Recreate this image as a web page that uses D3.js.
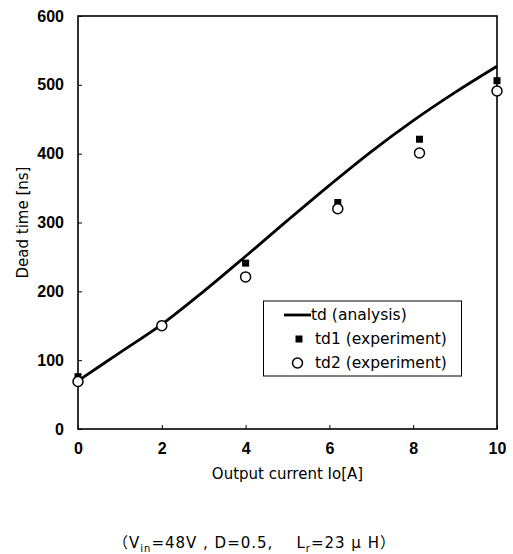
<!DOCTYPE html>
<html>
<head>
<meta charset="utf-8">
<script src="https://cdn.jsdelivr.net/npm/d3@7"></script>
<style>
  body { margin: 0; background: #fff; }
  svg { display: block; font-family: "DejaVu Sans", "Noto Sans CJK JP", sans-serif; }
</style>
</head>
<body>
<div id="chart"></div>
<script>
// Analysis curve td
const analysisX = [0, 1, 2, 3, 4, 5, 6, 7, 8, 9, 10];
const analysisY = [70, 111, 152, 200, 251, 303, 354, 403, 448, 489, 527];

// Experiment points
const td1X = [0, 2, 4, 6.2, 8.15, 10];
const td1Y = [76, 152, 241, 329, 421, 506];
const td2X = [0, 2, 4, 6.2, 8.15, 10];
const td2Y = [69, 150, 221, 320, 401, 491];

const xTicks = [0, 2, 4, 6, 8, 10];
const yTicks = [0, 100, 200, 300, 400, 500, 600];

const legendLabels = ["td (analysis)", "td1 (experiment)", "td2 (experiment)"];

const width = 513, height = 554;
const margin = { left: 78, top: 16, right: 16, bottom: 125 };

const svg = d3.select("#chart").append("svg")
    .attr("width", width)
    .attr("height", height);

const x = d3.scaleLinear().domain([0, 10]).range([margin.left, 497]);
const y = d3.scaleLinear().domain([0, 600]).range([429, margin.top]);

const tickFont = "'Liberation Sans', Arial, sans-serif";

// Axes with inward ticks
svg.append("g")
    .attr("transform", `translate(0,${y(0)})`)
    .call(d3.axisBottom(x).tickValues(xTicks).tickSizeInner(-4).tickSizeOuter(0).tickPadding(14))
    .call(g => g.select(".domain").remove())
    .call(g => g.selectAll("line").attr("stroke", "#000"))
    .call(g => g.selectAll("text")
        .attr("font-size", 16).attr("font-weight", "bold").attr("fill", "#000")
        .attr("font-family", tickFont));

svg.append("g")
    .attr("transform", `translate(${x(0)},0)`)
    .call(d3.axisLeft(y).tickValues(yTicks).tickSizeInner(-4).tickSizeOuter(0).tickPadding(14))
    .call(g => g.select(".domain").remove())
    .call(g => g.selectAll("line").attr("stroke", "#000"))
    .call(g => g.selectAll("text")
        .attr("font-size", 16).attr("font-weight", "bold").attr("fill", "#000")
        .attr("font-family", tickFont));

// Frame
svg.append("rect")
    .attr("x", x(0)).attr("y", y(600))
    .attr("width", x(10) - x(0)).attr("height", y(0) - y(600))
    .attr("fill", "none").attr("stroke", "#000").attr("stroke-width", 1.6);

// Axis titles
svg.append("text")
    .attr("x", (x(0) + x(10)) / 2).attr("y", 479)
    .attr("text-anchor", "middle")
    .attr("font-size", 15)
    .text("Output current Io[A]");

svg.append("text")
    .attr("transform", `translate(28,${(y(0) + y(600)) / 2}) rotate(-90)`)
    .attr("text-anchor", "middle")
    .attr("font-size", 15)
    .text("Dead time [ns]");

// Analysis line
const line = d3.line()
    .x((d, i) => x(analysisX[i]))
    .y(d => y(d))
    .curve(d3.curveMonotoneX);

svg.append("path")
    .datum(analysisY)
    .attr("d", line)
    .attr("fill", "none")
    .attr("stroke", "#000")
    .attr("stroke-width", 2.8);

// td1 squares
svg.append("g").selectAll("rect")
    .data(td1Y)
    .join("rect")
    .attr("x", (d, i) => x(td1X[i]) - 3.5)
    .attr("y", d => y(d) - 3.5)
    .attr("width", 7).attr("height", 7)
    .attr("fill", "#000");

// td2 circles
svg.append("g").selectAll("circle")
    .data(td2Y)
    .join("circle")
    .attr("cx", (d, i) => x(td2X[i]))
    .attr("cy", d => y(d))
    .attr("r", 5)
    .attr("fill", "#fff")
    .attr("stroke", "#000")
    .attr("stroke-width", 1.5);

// Legend
const lg = svg.append("g");
lg.append("rect")
    .attr("x", 263.5).attr("y", 301)
    .attr("width", 198).attr("height", 75)
    .attr("fill", "#fff").attr("stroke", "#000").attr("stroke-width", 1);

const rowY = [315, 339, 363];
lg.append("line")
    .attr("x1", 284).attr("x2", 311)
    .attr("y1", rowY[0]).attr("y2", rowY[0])
    .attr("stroke", "#000").attr("stroke-width", 2.8);
lg.append("rect")
    .attr("x", 295.5).attr("y", rowY[1] - 3.5)
    .attr("width", 7).attr("height", 7).attr("fill", "#000");
lg.append("circle")
    .attr("cx", 297.5).attr("cy", rowY[2]).attr("r", 5)
    .attr("fill", "#fff").attr("stroke", "#000").attr("stroke-width", 1.5);

lg.selectAll("text.lab")
    .data(legendLabels)
    .join("text")
    .attr("class", "lab")
    .attr("x", (d, i) => i === 0 ? 311 : 315)
    .attr("y", (d, i) => rowY[i])
    .attr("dy", "0.35em")
    .attr("font-size", 15.5)
    .text(d => d);

// Condition note
const note = svg.append("text")
    .attr("x", 113).attr("y", 548)
    .attr("font-size", 15)
    .attr("letter-spacing", 1.0);
note.append("tspan").text("（V");
note.append("tspan").attr("font-size", 10).attr("dy", 4).text("in");
note.append("tspan").attr("dy", -4).text("=48V , D=0.5,\u00a0\u00a0\u00a0 L");
note.append("tspan").attr("font-size", 10).attr("dy", 4).text("r");
note.append("tspan").attr("dy", -4).text("=23 μ H）");
</script>
</body>
</html>
